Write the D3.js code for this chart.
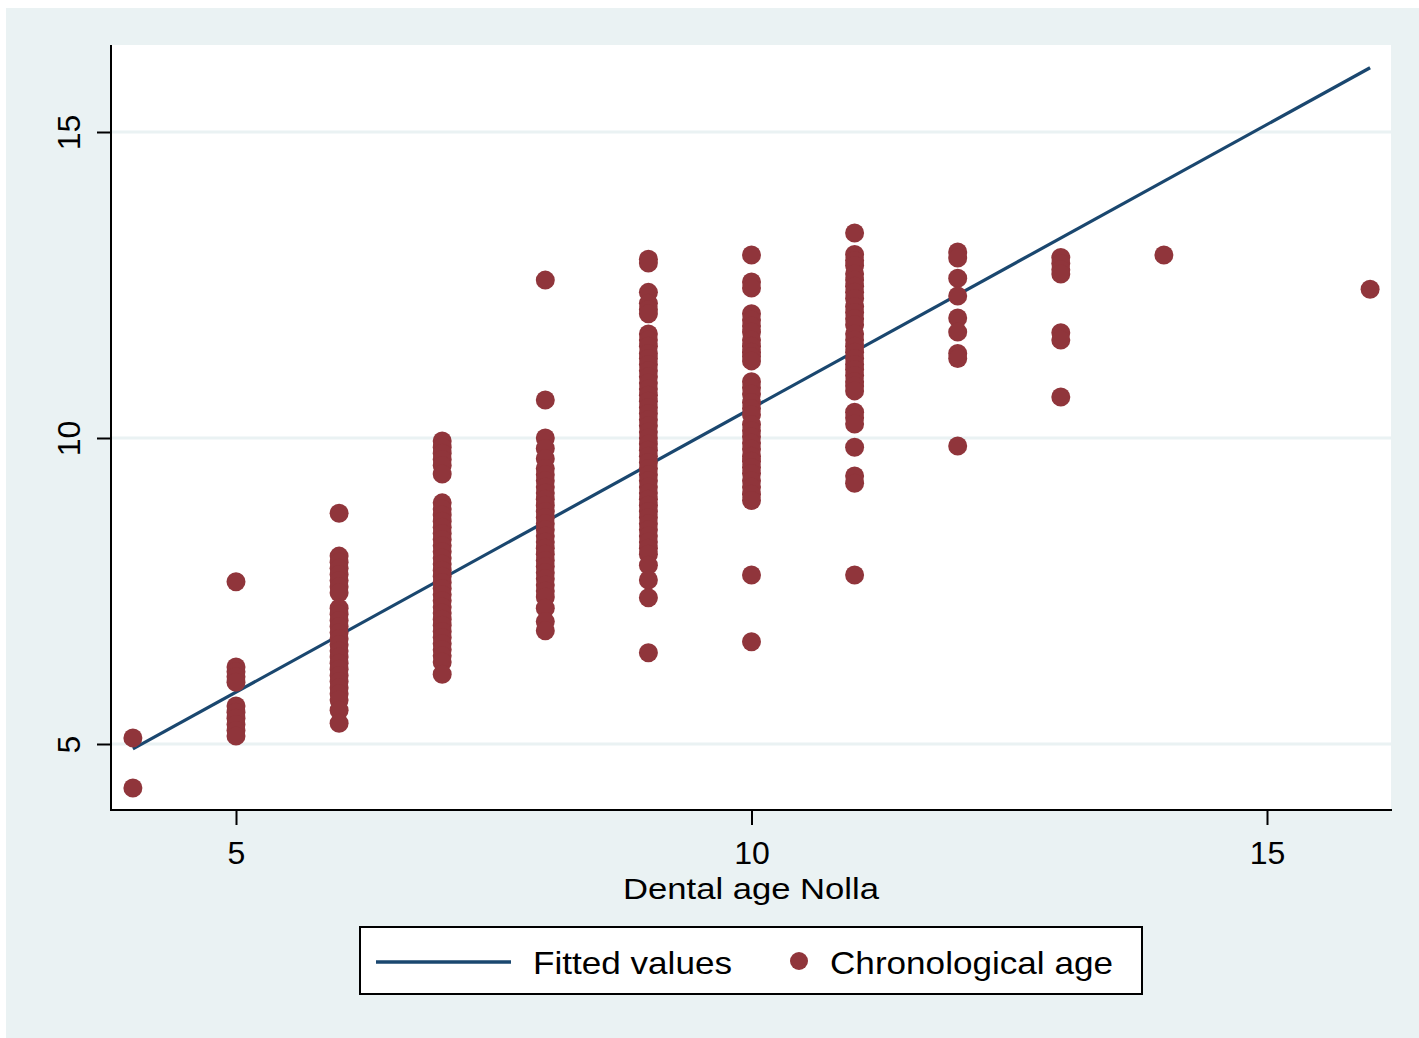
<!DOCTYPE html>
<html>
<head>
<meta charset="utf-8">
<script src="https://cdn.jsdelivr.net/npm/d3@7/dist/d3.min.js"></script>
<style>
  html, body { margin: 0; padding: 0; background: #ffffff; }
  svg { display: block; }
  text { font-family: "Liberation Sans", Arial, "DejaVu Sans", sans-serif; }
</style>
</head>
<body>
<svg id="chart" width="1419" height="1038"></svg>
<script>
// ---------- data ----------
const xTicks = [5, 10, 15];
const yTicks = [5, 10, 15];
const xTitle = "Dental age Nolla";
const legendLabels = ["Fitted values", "Chronological age"];

// fitted regression line end points (dental age -> fitted chronological age)
const fittedX = [4, 16];
const fittedY = [4.92, 16.05];

// chronological ages observed for each Nolla dental age
const dentalAges = [4, 5, 6, 7, 8, 9, 10, 11, 12, 13, 14, 16];
const chron4  = [5.10, 4.28];
const chron5  = [7.65, 6.26, 6.18, 6.10, 6.01, 5.62, 5.52, 5.42, 5.32, 5.22, 5.13];
const chron6  = [8.77, 8.07, 7.97, 7.87, 7.77, 7.67, 7.57, 7.47, 7.22, 7.12, 7.02, 6.92, 6.82, 6.72, 6.62,
                 6.52, 6.42, 6.32, 6.22, 6.12, 6.02, 5.92, 5.82, 5.72, 5.55, 5.34];
const chron7  = [9.95, 9.85, 9.75, 9.65, 9.55, 9.41, 8.94, 8.84, 8.74, 8.64, 8.54, 8.44, 8.34, 8.24, 8.14,
                 8.04, 7.94, 7.84, 7.74, 7.64, 7.54, 7.44, 7.34, 7.24, 7.14, 7.04, 6.94, 6.84, 6.74, 6.64,
                 6.54, 6.44, 6.34, 6.14];
const chron8  = [12.58, 10.62, 10.0, 9.83, 9.66, 9.5, 9.4, 9.3, 9.2, 9.1, 9.0, 8.9, 8.8, 8.7, 8.6, 8.5,
                 8.4, 8.3, 8.2, 8.1, 8.0, 7.9, 7.8, 7.7, 7.6, 7.5, 7.4, 7.22, 7.0, 6.85];
const chron9  = [12.92, 12.86, 12.38, 12.2, 12.1, 12.03, 11.7, 11.6, 11.5, 11.38, 11.3, 11.2, 11.1, 11.0,
                 10.9, 10.8, 10.7, 10.6, 10.5, 10.4, 10.3, 10.2, 10.1, 10.0, 9.9, 9.8, 9.7, 9.6, 9.5, 9.4,
                 9.3, 9.2, 9.1, 9.0, 8.9, 8.8, 8.7, 8.6, 8.5, 8.4, 8.3, 8.2, 8.1, 7.92, 7.68, 7.39, 6.49];
const chron10 = [12.99, 12.55, 12.45, 12.03, 11.93, 11.83, 11.73, 11.6, 11.5, 11.4, 11.33, 11.26, 10.92,
                 10.82, 10.72, 10.58, 10.48, 10.38, 10.22, 10.12, 10.02, 9.92, 9.82, 9.7, 9.62, 9.52, 9.42,
                 9.3, 9.2, 9.08, 8.98, 7.76, 6.67];
const chron11 = [13.35, 13.0, 12.9, 12.82, 12.68, 12.58, 12.48, 12.38, 12.28, 12.15, 12.05, 11.95, 11.85,
                 11.7, 11.6, 11.5, 11.4, 11.3, 11.2, 11.12, 11.02, 10.92, 10.85, 10.77, 10.42, 10.33, 10.23,
                 9.85, 9.38, 9.26, 7.76];
const chron12 = [13.04, 12.94, 12.61, 12.32, 11.96, 11.73, 11.38, 11.3, 9.87];
const chron13 = [12.95, 12.85, 12.75, 12.68, 11.72, 11.6, 10.67];
const chron14 = [12.99];
const chron16 = [12.43];

const chronColumns = [chron4, chron5, chron6, chron7, chron8, chron9, chron10, chron11, chron12, chron13, chron14, chron16];
const points = [];
dentalAges.forEach((d, i) => chronColumns[i].forEach(c => points.push({ x: d, y: c })));

// ---------- styling ----------
const colBg = "#eaf2f3";
const colLine = "#1a476f";
const colDot = "#90353b";
const fontSize = 32;

const svg = d3.select("#chart");

// outer graph region
svg.append("rect").attr("x", 6).attr("y", 8).attr("width", 1413).attr("height", 1030).attr("fill", colBg);

const plot = { left: 111, right: 1391, top: 45, bottom: 810 };
svg.append("rect")
  .attr("x", plot.left).attr("y", plot.top)
  .attr("width", plot.right - plot.left).attr("height", plot.bottom - plot.top)
  .attr("fill", "#ffffff");

const x = d3.scaleLinear().domain([5, 15]).range([236, 1267]);
const y = d3.scaleLinear().domain([5, 15]).range([744, 132]);

// gridlines
svg.append("g").selectAll("line").data(yTicks).join("line")
  .attr("x1", plot.left).attr("x2", plot.right)
  .attr("y1", d => y(d)).attr("y2", d => y(d))
  .attr("stroke", colBg).attr("stroke-width", 3);

// fitted line
svg.append("path")
  .datum(fittedX.map((v, i) => [v, fittedY[i]]))
  .attr("d", d3.line().x(d => x(d[0])).y(d => y(d[1])))
  .attr("fill", "none").attr("stroke", colLine).attr("stroke-width", 3.2);

// scatter points
svg.append("g").selectAll("circle").data(points).join("circle")
  .attr("cx", d => x(d.x)).attr("cy", d => y(d.y))
  .attr("r", 9.5).attr("fill", colDot);

// x axis
const xAxis = d3.axisBottom(x).tickValues(xTicks).tickSize(15).tickPadding(5).tickFormat(d3.format("d"));
const gx = svg.append("g").attr("transform", `translate(0,${plot.bottom})`).call(xAxis);
gx.select(".domain").remove();
gx.selectAll(".tick line").attr("stroke", "#000").attr("stroke-width", 2);
gx.selectAll(".tick text").attr("font-size", fontSize).attr("fill", "#000")
  .attr("font-family", '"Liberation Sans", Arial, sans-serif')
  .attr("dy", null).attr("y", 54);
svg.append("line").attr("x1", plot.left - 1).attr("x2", plot.right + 1)
  .attr("y1", plot.bottom).attr("y2", plot.bottom).attr("stroke", "#000").attr("stroke-width", 2);

// y axis
const yAxis = d3.axisLeft(y).tickValues(yTicks).tickSize(14).tickFormat(d3.format("d"));
const gy = svg.append("g").attr("transform", `translate(${plot.left},0)`).call(yAxis);
gy.select(".domain").remove();
gy.selectAll(".tick line").attr("stroke", "#000").attr("stroke-width", 2);
gy.selectAll(".tick text")
  .attr("font-size", fontSize).attr("fill", "#000")
  .attr("font-family", '"Liberation Sans", Arial, sans-serif')
  .attr("x", null).attr("dy", null)
  .attr("text-anchor", "middle")
  .attr("transform", "translate(-31,0) rotate(-90)");
svg.append("line").attr("x1", plot.left).attr("x2", plot.left)
  .attr("y1", plot.top).attr("y2", plot.bottom + 1).attr("stroke", "#000").attr("stroke-width", 2);

// x axis title
svg.append("text").attr("x", 751).attr("y", 899)
  .attr("text-anchor", "middle").attr("font-size", 30).attr("fill", "#000")
  .attr("textLength", 256).attr("lengthAdjust", "spacingAndGlyphs")
  .text(xTitle);

// legend
const lg = svg.append("g");
lg.append("rect").attr("x", 360).attr("y", 927).attr("width", 782).attr("height", 67)
  .attr("fill", "#ffffff").attr("stroke", "#000").attr("stroke-width", 2);
lg.append("line").attr("x1", 376).attr("x2", 511).attr("y1", 962).attr("y2", 962)
  .attr("stroke", colLine).attr("stroke-width", 3.5);
lg.append("text").attr("x", 533).attr("y", 974).attr("font-size", fontSize).attr("fill", "#000")
  .attr("textLength", 199).attr("lengthAdjust", "spacingAndGlyphs").text(legendLabels[0]);
lg.append("circle").attr("cx", 799).attr("cy", 961).attr("r", 9).attr("fill", colDot);
lg.append("text").attr("x", 830).attr("y", 974).attr("font-size", fontSize).attr("fill", "#000")
  .attr("textLength", 283).attr("lengthAdjust", "spacingAndGlyphs").text(legendLabels[1]);
</script>
</body>
</html>
